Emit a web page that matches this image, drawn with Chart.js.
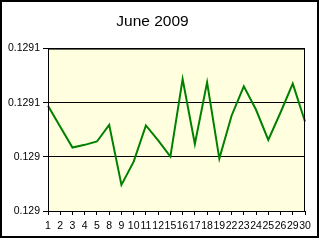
<!DOCTYPE html>
<html>
<head>
<meta charset="utf-8">
<title>June 2009</title>
<script src="https://cdn.jsdelivr.net/npm/chart.js@4/dist/chart.umd.min.js"></script>
<style>
    html, body { margin: 0; padding: 0; background: #ffffff; }
    #chart { display: block; }
</style>
</head>
<body>
<canvas id="chart" width="320" height="240"></canvas>
<script>
// ===== DATA =====
const days = ['1', '2', '3', '4', '5', '8', '9', '10', '11', '12', '15', '16', '17', '18', '19', '22', '23', '24', '25', '26', '29', '30'];
const rates = [
    0.1290472, 0.1290278, 0.1290086, 0.1290111, 0.1290142, 0.1290296,
    0.1289741, 0.1289956, 0.1290290, 0.1290153, 0.1290003, 0.1290719,
    0.1290120, 0.1290688, 0.1289984, 0.1290380, 0.1290651, 0.1290435,
    0.1290157, 0.1290410, 0.1290676, 0.1290327
];
const yTickValues = [0.12895, 0.129, 0.12905, 0.1291];
const yTickLabels = ['0.129', '0.129', '0.1291', '0.1291'];

const FONT = "'Liberation Sans', Arial, sans-serif";

// ===== PLUGINS =====
// light yellow plot area, plot frame and the outer frame of the picture
const frames = {
    id: 'frames',
    beforeDraw(chart) {
        const { ctx, chartArea: a } = chart;
        ctx.save();
        ctx.fillStyle = '#ffffe0';
        ctx.fillRect(a.left, a.top, a.right - a.left, a.bottom - a.top);
        ctx.restore();
    },
    afterDraw(chart) {
        const { ctx, chartArea: a } = chart;
        ctx.save();
        ctx.strokeStyle = '#000000';
        ctx.lineWidth = 1;
        ctx.strokeRect(a.left + 0.5, a.top + 0.5, a.right - a.left - 1, a.bottom - a.top);
        ctx.lineWidth = 2;
        ctx.strokeRect(1, 1, chart.width - 3, chart.height - 4);
        ctx.restore();
    }
};

// ===== CHART =====
function createChart() {
    const ctx = document.getElementById('chart');

    new Chart(ctx, {
        type: 'line',
        data: {
            labels: days,
            datasets: [{
                data: rates,
                borderColor: '#008000',
                borderWidth: 2,
                pointRadius: 0,
                tension: 0,
                fill: false
            }]
        },
        options: {
            responsive: false,
            animation: false,
            devicePixelRatio: 1,
            layout: {
                padding: { left: 0, right: 15, top: 0, bottom: 0 }
            },
            plugins: {
                legend: { display: false },
                tooltip: { enabled: false },
                title: {
                    display: true,
                    text: 'June 2009',
                    color: '#000000',
                    font: { size: 15.5, family: FONT, weight: 'normal' },
                    padding: { top: 12, bottom: 18 }
                }
            },
            scales: {
                x: {
                    type: 'category',
                    offset: false,
                    afterFit: scale => { scale.height = 29; },
                    grid: {
                        drawOnChartArea: false,
                        drawTicks: true,
                        tickLength: 4,
                        color: '#000000'
                    },
                    border: { display: true, color: '#000000' },
                    ticks: {
                        autoSkip: false,
                        maxRotation: 0,
                        minRotation: 0,
                        padding: 5,
                        color: '#000000',
                        font: { size: 10.5, family: FONT }
                    }
                },
                y: {
                    min: 0.12895,
                    max: 0.1291,
                    afterFit: scale => { scale.width = 48; },
                    afterBuildTicks: scale => {
                        scale.ticks = yTickValues.map(v => ({ value: v }));
                    },
                    grid: {
                        drawOnChartArea: true,
                        drawTicks: true,
                        tickLength: 5,
                        color: '#000000'
                    },
                    border: { display: true, color: '#000000' },
                    ticks: {
                        padding: 3,
                        color: '#000000',
                        font: { size: 10.5, family: FONT },
                        callback: (value, index) => yTickLabels[index]
                    }
                }
            }
        },
        plugins: [frames]
    });
}

createChart();
</script>
</body>
</html>
